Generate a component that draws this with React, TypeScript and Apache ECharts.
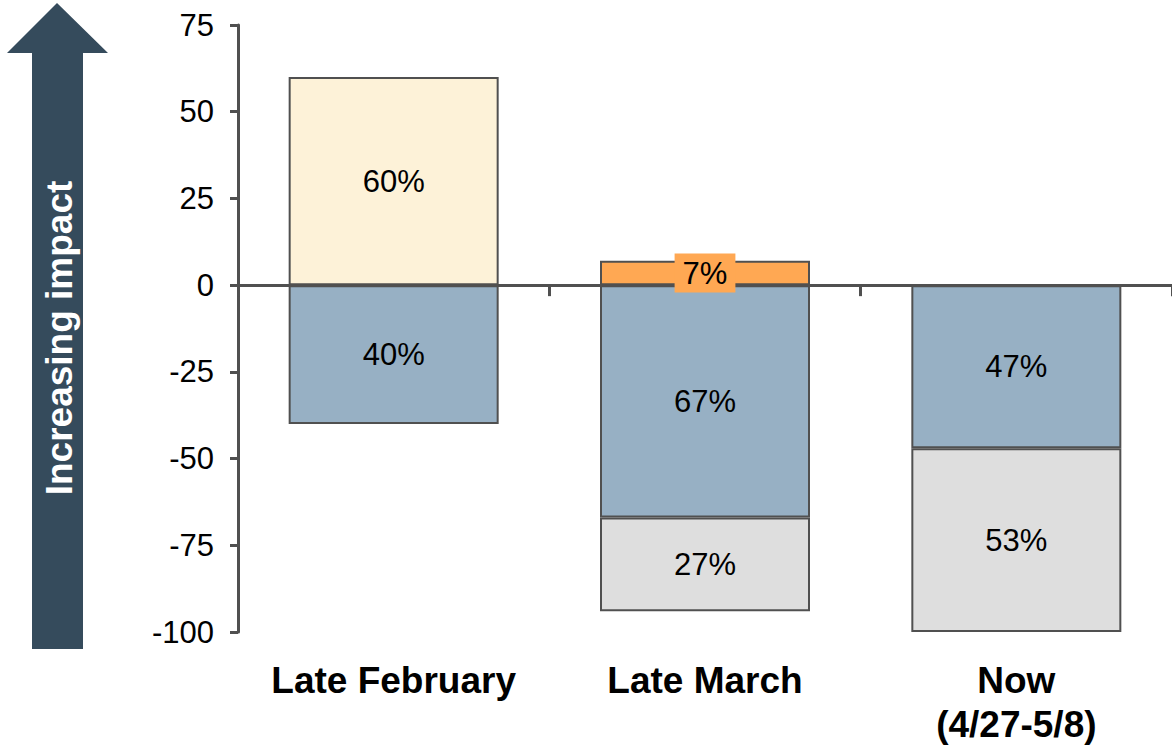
import React, { useEffect, useRef } from "react";
import * as echarts from "echarts";

const categories = ["Late February", "Late March", "Now\n(4/27-5/8)"];
const yTicks = { min: -100, max: 75, interval: 25 };
const creamUp = [60, null, null];
const orangeUp = [null, 7, null];
const blueDown = [-40, -67, -47];
const grayDown = [null, -27, -53];

const FONT = "'Liberation Sans', Arial, sans-serif";
const BORDER = "#505050";

export default function App() {
  const ref = useRef<HTMLDivElement>(null);
  useEffect(() => {
    if (!ref.current) return;
    const chart = echarts.init(ref.current, undefined, { renderer: "svg" });
    const label = {
      show: true,
      position: "inside",
      color: "#000",
      fontFamily: FONT,
      fontSize: 31,
      formatter: (p: any) => `${Math.abs(p.value)}%`,
    };
    const mk = (name: string, data: (number | null)[], color: string, extraLabel: any = {}) => ({
      name,
      type: "bar",
      stack: "total",
      xAxisIndex: 0,
      barWidth: 210,
      data: data.map((v) => (v === null ? "-" : v)),
      itemStyle: { color, borderColor: BORDER, borderWidth: 2 },
      label: { ...label, ...extraLabel },
    });
    chart.setOption({
      animation: false,
      grid: { left: 238, top: 25, width: 937, height: 607, containLabel: false },
      xAxis: [
        {
          type: "category",
          data: categories,
          position: "top",
          axisLine: { show: true, onZero: true, lineStyle: { color: BORDER, width: 3 } },
          axisTick: { show: true, inside: true, length: 11, alignWithLabel: false, lineStyle: { color: BORDER, width: 3 } },
          axisLabel: { show: false },
          splitLine: { show: false },
        },
        {
          type: "category",
          data: categories,
          position: "bottom",
          axisLine: { show: false, onZero: false },
          axisTick: { show: false },
          axisLabel: {
            show: true,
            color: "#000",
            fontFamily: FONT,
            fontWeight: "bold",
            fontSize: 37,
            lineHeight: 44,
            margin: 26,
            interval: 0,
          },
          splitLine: { show: false },
        },
      ],
      yAxis: {
        type: "value",
        min: yTicks.min,
        max: yTicks.max,
        interval: yTicks.interval,
        axisLine: { show: true, lineStyle: { color: BORDER, width: 3 } },
        axisTick: { show: true, inside: false, length: 8, lineStyle: { color: BORDER, width: 3 } },
        axisLabel: { color: "#000", fontFamily: FONT, fontSize: 31, margin: 24 },
        splitLine: { show: false },
      },
      series: [
        mk("blue", blueDown, "#97B0C4"),
        mk("gray", grayDown, "#DEDEDE"),
        mk("cream", creamUp, "#FDF2D8"),
        mk("orange", orangeUp, "#FFA853", {
          backgroundColor: "#FFA853",
          padding: [4, 8, 4, 8],
        }),
      ],
      graphic: [
        {
          type: "polygon",
          shape: {
            points: [
              [57, 3],
              [108, 53],
              [83, 53],
              [83, 649],
              [32, 649],
              [32, 53],
              [7, 53],
            ],
          },
          style: { fill: "#354B5C" },
        },
        {
          type: "text",
          x: 59,
          y: 338,
          rotation: Math.PI / 2,
          style: {
            text: "Increasing impact",
            fill: "#ffffff",
            font: `bold 37px ${FONT}`,
            align: "center",
            verticalAlign: "middle",
          },
        },
      ],
    });
    return () => chart.dispose();
  }, []);
  return (
    <div
      ref={ref}
      style={{ position: "absolute", left: 0, top: 0, width: 1172, height: 747, background: "#fff" }}
    />
  );
}
